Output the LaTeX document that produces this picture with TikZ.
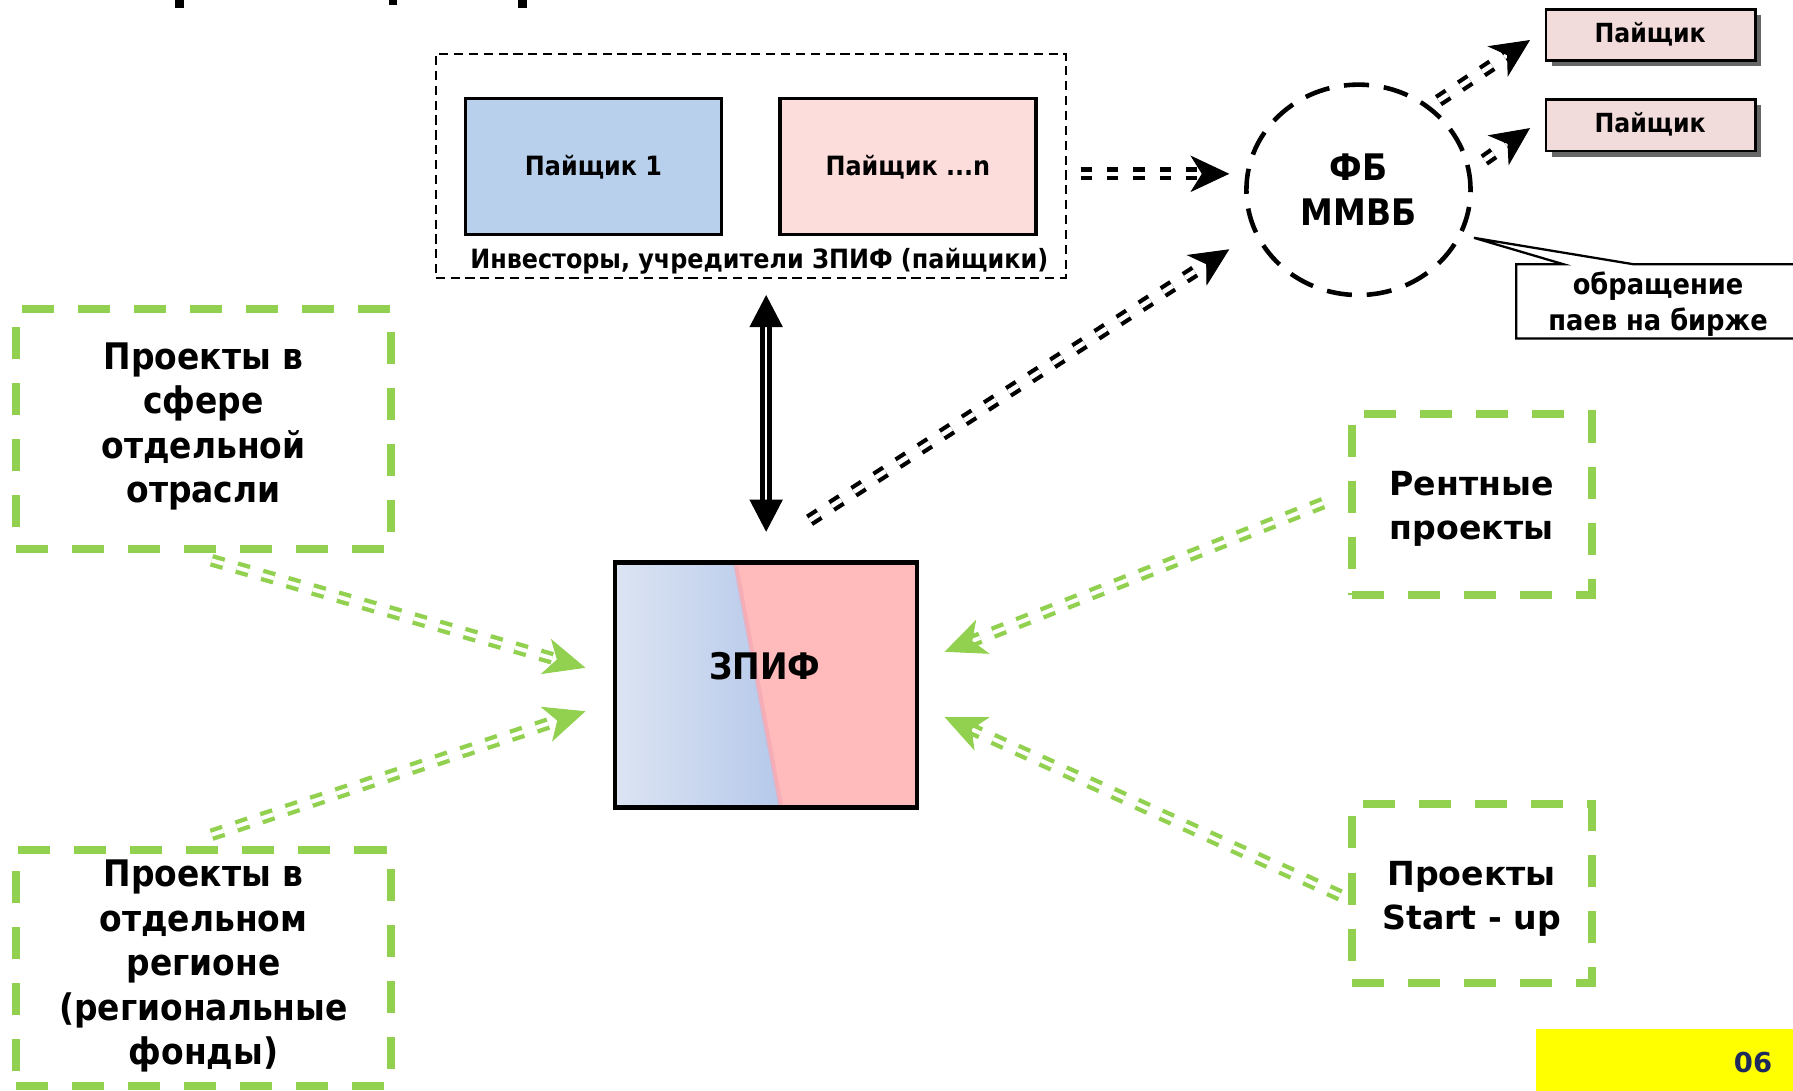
\documentclass[tikz,border=0pt]{standalone}
\usepackage{fontspec}
\setmainfont{DejaVu Sans}
\newfontfamily\cnd{DejaVu Sans Condensed}[BoldFont={DejaVu Sans Condensed Bold}]
\usetikzlibrary{arrows.meta,shapes.geometric,fit,shadows,calc}
\definecolor{grn}{HTML}{92D050}
\definecolor{blu1}{HTML}{B8D0EC}
\definecolor{pnk1}{HTML}{FDDCDC}
\definecolor{pnk2}{HTML}{F2DCDB}
\definecolor{zpink}{HTML}{FFBBBB}
\definecolor{zbl}{HTML}{DCE4F3}
\definecolor{zbr}{HTML}{B6C9EA}
\definecolor{zedge}{HTML}{F2A4B4}
\definecolor{navy}{HTML}{1F2A5C}
\definecolor{yel}{HTML}{FFFF00}
\tikzset{
  dbk/.style={draw=black, line width=1.85pt, double=white, double distance=2pt, dash pattern=on 5pt off 6.5pt, shorten >=11pt},
  headk/.style={-{Stealth[length=17pt,width=16pt,inset=5pt]}, line width=0.4pt, solid, draw=black},
  dbg/.style={draw=grn, line width=1.9pt, double=white, double distance=1.75pt, dash pattern=on 5.5pt off 6pt, shorten >=12pt},
  headg/.style={-{Stealth[length=18pt,width=16pt,inset=5pt]}, line width=0.4pt, solid, draw=grn},
  gbox/.style={draw=grn, line width=3.5pt, dash pattern=on 14pt off 10.5pt, inner sep=0pt},
  gtext/.style={align=center, font=\bfseries\fontsize{14.5pt}{19.5pt}\selectfont},
  gtextc/.style={align=center, font=\cnd\bfseries\fontsize{16pt}{19.5pt}\selectfont},
  ibox/.style={draw=black, line width=1.5pt, inner sep=0pt},
  itext/.style={font=\cnd\bfseries\fontsize{11.6pt}{13pt}\selectfont},
  pbox/.style={draw=black, line width=1.2pt, fill=pnk2, inner sep=0pt,
    drop shadow={shadow xshift=2.5pt, shadow yshift=-2.5pt, fill=black, opacity=0.6}},
  ptext/.style={font=\cnd\bfseries\fontsize{11.5pt}{13pt}\selectfont},
}
\begin{document}
\begin{tikzpicture}[x=0.5pt,y=-0.5pt]
\useasboundingbox (0,0) rectangle (1568,954);
% cropped title fragments
\fill (153,0) rectangle (161,7);
\fill (340,0) rectangle (347,4.5);
\fill (453,0) rectangle (461,7);

% investors group
\node[draw=black, line width=1pt, dash pattern=on 4pt off 2.5pt, inner sep=0pt, fit={(381,47) (932,243)}] (inv) {};
\node[ibox, fill=blu1, fit={(407,86) (631,205)}] (p1) {};
\node[itext] (p1t) at (519,146) {Пайщик 1};
\node[ibox, fill=pnk1, fit={(682,86) (906,205)}] (pn) {};
\node[itext] (pnt) at (794,146) {Пайщик ...n};
\node[itext] (invt) at (664,228) {Инвесторы, учредители ЗПИФ (пайщики)};

% exchange
\node[ellipse, draw=black, line width=2pt, dash pattern=on 11pt off 6.5pt, minimum width=98pt, minimum height=92pt, inner sep=0pt, align=center, font=\cnd\bfseries\fontsize{16pt}{19.5pt}\selectfont] (fb) at (1188,166) {ФБ\\ММВБ};

% holders on exchange
\node[pbox, fit={(1352,8) (1535,53)}] (q1) {};
\node[ptext] (q1t) at (1443,30) {Пайщик};
\node[pbox, fit={(1352,87) (1535,132)}] (q2) {};
\node[ptext] (q2t) at (1443,109) {Пайщик};

% callout
\coordinate (cbl) at (1326,296);
\coordinate (ctl) at (1326,231);
\coordinate (ca) at (1367,231);
\coordinate (ctip) at (1289,208);
\coordinate (cb) at (1428,231);
\coordinate (ctr) at (1580,231);
\coordinate (cbr) at (1580,296);
\draw[line width=1pt, fill=white] (cbl) -- (ctl) -- (ca) -- (ctip) -- (cb) -- (ctr) -- (cbr) -- cycle;
\node[align=center, font=\cnd\bfseries\fontsize{12.5pt}{15.5pt}\selectfont] (ct) at (1450,266) {обращение\\паев на бирже};

% ZPIF
\fill[zpink] (538,492) rectangle (802,706);
\shade[left color=zbl, right color=zbr] (538,492) -- (642,492) -- (682,706) -- (538,706) -- cycle;
\draw[zedge, line width=2pt, opacity=0.6] (643,492) -- (683,706);
\node[draw=black, line width=2pt, inner sep=0pt, fit={(538,492) (802,706)}] (zpif) {};
\node[font=\cnd\bfseries\fontsize{16pt}{19pt}\selectfont] (zt) at (669,583) {ЗПИФ};

% green project boxes
\node[gbox, fit={(14,270) (342,480)}] (g1) {};
\node[gtextc] (g1t) at (178,373) {Проекты в\\сфере\\отдельной\\отрасли};
\node[gbox, fit={(14,743) (342,950)}] (g2) {};
\node[gtextc] (g2t) at (178,845) {Проекты в\\отдельном\\регионе\\(региональные\\фонды)};
\node[gbox, fit={(1182,362) (1392,520)}] (g3) {};
\node[gtext] (g3t) at (1287,445) {Рентные\\проекты};
\node[gbox, fit={(1182,703) (1392,860)}] (g4) {};
\node[gtext] (g4t) at (1287,786) {Проекты\\Start - up};

% page number
\node[fill=yel, inner sep=0pt, fit={(1343,900) (1568,954)}] (pg) {};
\node[text=navy, font=\bfseries\fontsize{12pt}{14pt}\selectfont] (pgt) at (1533,929) {06};

% black arrow endpoints
\coordinate (a1s) at (945,152);  \coordinate (a1e) at (1075,152);
\coordinate (a2s) at (708,455);  \coordinate (a2e) at (1075,218);
\coordinate (a3s) at (1258,88);  \coordinate (a3e) at (1338,35);
\coordinate (a4s) at (1298,140); \coordinate (a4e) at (1338,112);
\foreach \i in {1,2,3,4}{
  \draw[dbk] (a\i s) -- (a\i e);
  \draw[headk] ($(a\i e)!2pt!(a\i s)$) -- (a\i e);
}

% vertical double arrow
\coordinate (vt) at (670,258);
\coordinate (vb) at (670,465);
\draw[line width=1.9pt, double=white, double distance=1.15pt, shorten <=12pt, shorten >=12pt] (vt) -- (vb);
\draw[-{Triangle[length=14pt,width=14.5pt]}, line width=0.4pt] ($(vt)!2pt!(vb)$) -- (vt);
\draw[-{Triangle[length=14pt,width=14.5pt]}, line width=0.4pt] ($(vb)!2pt!(vt)$) -- (vb);

% green arrows
\coordinate (b1s) at (185,490);  \coordinate (b1e) at (512,584);
\coordinate (b2s) at (185,730);  \coordinate (b2e) at (512,622);
\coordinate (b3s) at (1157,440); \coordinate (b3e) at (826,570);
\coordinate (b4s) at (1172,783); \coordinate (b4e) at (826,627);
\foreach \i in {1,2,3,4}{
  \draw[dbg] (b\i s) -- (b\i e);
  \draw[headg] ($(b\i e)!2pt!(b\i s)$) -- (b\i e);
}
\end{tikzpicture}
\end{document}
